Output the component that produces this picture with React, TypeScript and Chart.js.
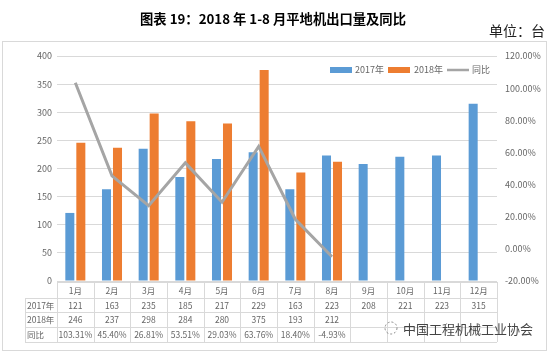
import React, { useEffect, useRef } from "react";
import { Chart, registerables } from "chart.js";

Chart.register(...registerables);

const categories = ["1月", "2月", "3月", "4月", "5月", "6月", "7月", "8月", "9月", "10月", "11月", "12月"];
const series2017 = [121, 163, 235, 185, 217, 229, 163, 223, 208, 221, 223, 315];
const series2018: (number | null)[] = [246, 237, 298, 284, 280, 375, 193, 212, null, null, null, null];
const yoy: (number | null)[] = [103.31, 45.4, 26.81, 53.51, 29.03, 63.76, 18.4, -4.93, null, null, null, null];
const leftTicks = { min: 0, max: 400, step: 50 };
const rightTicks = { min: -20, max: 120, step: 20 };
const title = "图表 19：2018 年 1-8 月平地机出口量及同比";
const unitLabel = "单位：台";
const watermark = "中国工程机械工业协会";

const BLUE = "#5B9BD5";
const ORANGE = "#ED7D31";
const GRAY = "#A5A5A5";
const TXT = "#666666";
const GRID = "#D9D9D9";
const FONT = '"Noto Sans CJK SC", "DejaVu Sans", sans-serif';

const fmtPct = (v: number) => v.toFixed(2) + "%";

const decorPlugin = {
  id: "decor",
  beforeDraw(chart: any) {
    const { ctx } = chart;
    ctx.save();
    ctx.fillStyle = "#ffffff";
    ctx.fillRect(0, 0, chart.width, chart.height);
    ctx.strokeStyle = GRID;
    ctx.lineWidth = 1;
    ctx.strokeRect(2.5, 41.5, 544, 309);
    ctx.fillStyle = "#000";
    ctx.font = `bold 13.3px ${FONT}`;
    ctx.textAlign = "center";
    ctx.textBaseline = "middle";
    ctx.fillText(title, 273, 19);
    ctx.font = `14px ${FONT}`;
    ctx.textAlign = "right";
    ctx.fillStyle = "#222";
    ctx.fillText(unitLabel, 545, 31);
    ctx.restore();
  },
  afterDraw(chart: any) {
    const { ctx, chartArea } = chart;
    const xs = chart.scales.x;
    const left = chartArea.left;
    const right = chartArea.right;
    const colW = (right - left) / categories.length;
    const rows = [282, 298, 312, 327, 342];
    const labelLeft = 25;
    ctx.save();
    ctx.strokeStyle = GRID;
    ctx.lineWidth = 1;
    ctx.beginPath();
    ctx.moveTo(left, rows[0] + 0.5);
    ctx.lineTo(right, rows[0] + 0.5);
    for (let i = 1; i < rows.length; i++) {
      ctx.moveTo(labelLeft, rows[i] + 0.5);
      ctx.lineTo(right, rows[i] + 0.5);
    }
    ctx.moveTo(labelLeft + 0.5, rows[1]);
    ctx.lineTo(labelLeft + 0.5, rows[4]);
    for (let i = 0; i <= categories.length; i++) {
      const x = Math.round(left + i * colW) + 0.5;
      ctx.moveTo(x, rows[0]);
      ctx.lineTo(x, rows[4]);
    }
    ctx.stroke();

    ctx.fillStyle = TXT;
    ctx.font = `8.5px ${FONT}`;
    ctx.textAlign = "center";
    ctx.textBaseline = "middle";
    const mid = (r: number) => (rows[r] + rows[r + 1]) / 2 + 0.5;
    categories.forEach((c, i) => {
      const x = xs.getPixelForValue(i);
      ctx.fillText(c, x, mid(0));
      ctx.fillText(String(series2017[i]), x, mid(1));
      const v18 = series2018[i];
      if (v18 != null) ctx.fillText(String(v18), x, mid(2));
      const y = yoy[i];
      if (y != null) ctx.fillText(fmtPct(y), x, mid(3));
    });
    ctx.textAlign = "left";
    ctx.fillText("2017年", labelLeft + 2, mid(1));
    ctx.fillText("2018年", labelLeft + 2, mid(2));
    ctx.fillText("同比", labelLeft + 2, mid(3));

    const ly = 70;
    ctx.font = `9px ${FONT}`;
    ctx.textBaseline = "middle";
    ctx.fillStyle = BLUE;
    ctx.fillRect(330, ly - 3, 22, 6);
    ctx.fillStyle = TXT;
    ctx.fillText("2017年", 355, ly);
    ctx.fillStyle = ORANGE;
    ctx.fillRect(388, ly - 3, 22, 6);
    ctx.fillStyle = TXT;
    ctx.fillText("2018年", 414, ly);
    ctx.strokeStyle = GRAY;
    ctx.lineWidth = 2.5;
    ctx.beginPath();
    ctx.moveTo(447, ly);
    ctx.lineTo(469, ly);
    ctx.stroke();
    ctx.fillText("同比", 472, ly);

    ctx.strokeStyle = "#888";
    ctx.lineWidth = 1;
    ctx.setLineDash([2, 2]);
    ctx.beginPath();
    ctx.arc(391, 328, 6, 0, Math.PI * 2);
    ctx.stroke();
    ctx.setLineDash([]);
    ctx.fillStyle = "#444";
    ctx.font = `13px ${FONT}`;
    ctx.textAlign = "left";
    ctx.fillText(watermark, 403, 329);
    ctx.restore();
  },
};

export default function App() {
  const ref = useRef<HTMLCanvasElement | null>(null);
  useEffect(() => {
    if (!ref.current) return;
    const chart = new Chart(ref.current, {
      type: "bar",
      data: {
        labels: categories,
        datasets: [
          {
            type: "line",
            label: "同比",
            data: yoy,
            yAxisID: "y1",
            borderColor: GRAY,
            backgroundColor: GRAY,
            borderWidth: 3,
            pointRadius: 0,
            tension: 0,
            spanGaps: false,
            order: 0,
          } as any,
          {
            label: "2017年",
            data: series2017,
            backgroundColor: BLUE,
            yAxisID: "y",
            categoryPercentage: 0.6,
            barPercentage: 0.82,
            order: 1,
          },
          {
            label: "2018年",
            data: series2018,
            backgroundColor: ORANGE,
            yAxisID: "y",
            categoryPercentage: 0.6,
            barPercentage: 0.82,
            order: 1,
          },
        ],
      },
      options: {
        animation: false,
        responsive: false,
        maintainAspectRatio: false,
        layout: { padding: { left: 0, right: 0, top: 56, bottom: 73 } },
        plugins: { legend: { display: false }, tooltip: { enabled: false }, title: { display: false } },
        scales: {
          x: { display: false, offset: true, grid: { display: false } },
          y: {
            position: "left",
            min: leftTicks.min,
            max: leftTicks.max,
            ticks: { stepSize: leftTicks.step, color: TXT, font: { size: 9, family: FONT }, padding: 5 },
            grid: { color: GRID, drawTicks: false },
            border: { display: false },
            afterFit: (s: any) => { s.width = 57; },
          },
          y1: {
            position: "right",
            min: rightTicks.min,
            max: rightTicks.max,
            ticks: {
              stepSize: rightTicks.step,
              color: TXT,
              font: { size: 9, family: FONT },
              padding: 8,
              callback: (v: any) => fmtPct(Number(v)),
            },
            grid: { display: false, drawTicks: false },
            border: { display: false },
            afterFit: (s: any) => { s.width = 53; },
          },
        },
      },
      plugins: [decorPlugin],
    });
    return () => chart.destroy();
  }, []);
  return (
    <div style={{ position: "fixed", left: 0, top: 0, width: 550, height: 354, background: "#fff" }}>
      <canvas ref={ref} width={550} height={354} style={{ width: 550, height: 354, display: "block" }} />
    </div>
  );
}
